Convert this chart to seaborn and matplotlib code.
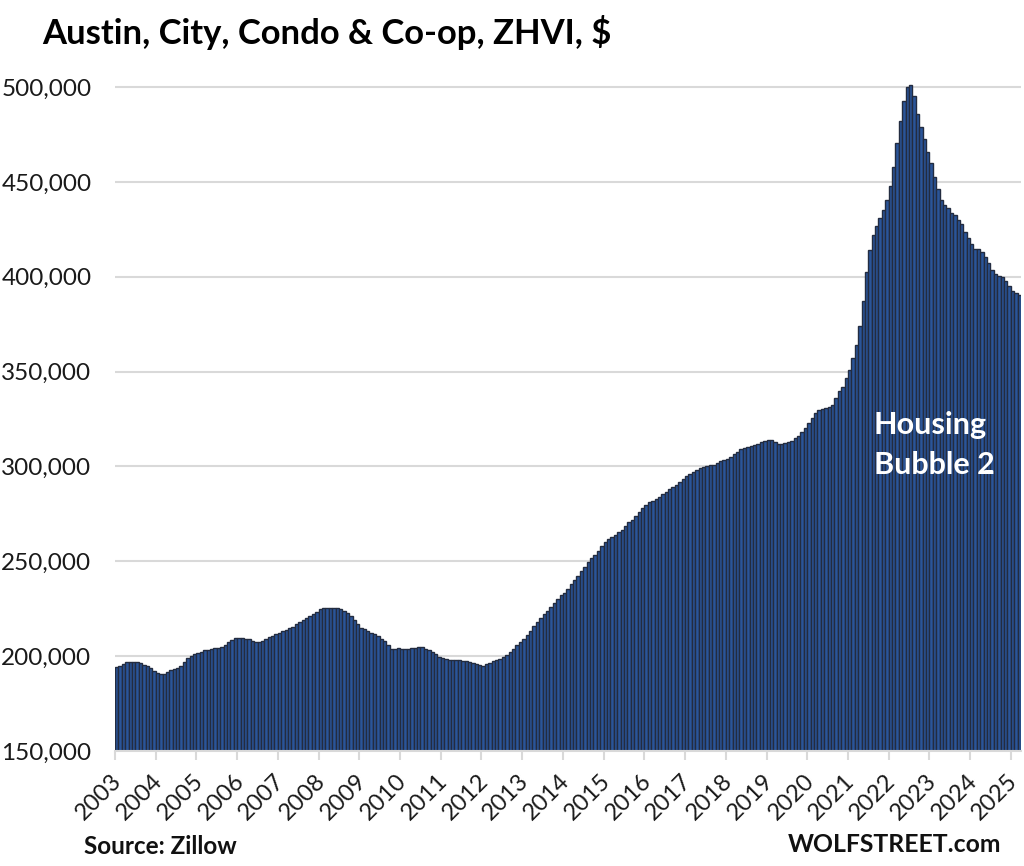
import numpy as np
import matplotlib
matplotlib.use('Agg')
import matplotlib.pyplot as plt
from matplotlib.transforms import ScaledTranslation
import seaborn as sns

# monthly values in $1000, starting Jan 2003
y2003 = [194.5, 195, 196, 196.7, 197, 197, 196.7, 196.2, 195.5, 194.8, 193.5, 192.3]
y2004 = [191, 190.5, 190.7, 191.5, 192.7, 193.3, 194, 195, 197, 199, 200, 201]
y2005 = [201.8, 202.4, 203, 203.5, 204, 204.3, 204.5, 204.8, 206, 207.6, 208.7, 209.5]
y2006 = [209.5, 209.4, 209.2, 208.8, 208, 207.4, 207.6, 208.2, 209, 210, 210.8, 211.6]
y2007 = [212.4, 213, 214, 215, 215.5, 216.7, 218, 219, 220, 221, 222, 223.5]
y2008 = [225, 225.2, 225.2, 225.2, 225.3, 225.2, 224.8, 224, 223, 221, 219, 217]
y2009 = [215, 214.2, 213.2, 212.4, 211.5, 210.5, 209.2, 207.8, 206, 204, 204, 204.4]
y2010 = [204, 204, 204, 204.3, 204.5, 205, 204.7, 204, 203, 202, 201, 199.7]
y2011 = [199, 198.5, 198, 198, 198, 198, 197.7, 197.3, 196.8, 196.3, 196, 195.5]
y2012 = [195, 195.7, 196.5, 197.2, 198, 198.7, 199.5, 200.5, 202, 204, 206, 207.5]
y2013 = [209, 211, 213.5, 216, 218, 220, 222, 224, 226, 228, 230, 232]
y2014 = [233.5, 235.5, 238, 240, 242.5, 245, 247, 249.5, 251.5, 253.5, 255.5, 258]
y2015 = [260, 261.5, 263, 264, 265.5, 266.5, 268.5, 270.5, 272, 274, 276, 278]
y2016 = [279.5, 281, 282, 283, 284, 285.5, 286.5, 288, 289, 290, 292, 293.5]
y2017 = [295, 296, 297, 298, 299, 299.5, 300, 300.5, 301, 302, 302.7, 303.3]
y2018 = [304, 305, 306.5, 307.5, 309, 309.5, 310, 310.7, 311.3, 312, 313, 313.5]
y2019 = [314, 314, 313, 312, 312, 312.3, 312.8, 313.4, 314.8, 316.3, 318.3, 320.3]
y2020 = [323, 325.5, 328, 329.7, 330.5, 331, 331.3, 332.5, 336, 339.5, 342, 346.7]
y2021 = [351, 357, 364, 374, 387, 402.5, 414, 422, 426.7, 431, 435, 440.5]
y2022 = [448, 458, 470.5, 482, 492.6, 500, 501, 495, 486, 479, 472.6, 466]
y2023 = [460, 452.6, 446, 440.5, 438, 436, 433.5, 432.5, 430, 428, 423.6, 420.5]
y2024 = [417, 414.6, 414.6, 413, 410.5, 407, 403.5, 401.5, 400.5, 400, 398, 395]
y2025 = [392.5, 391.5, 390.5]

all_years = [y2003, y2004, y2005, y2006, y2007, y2008, y2009, y2010, y2011, y2012, y2013, y2014,
             y2015, y2016, y2017, y2018, y2019, y2020, y2021, y2022, y2023, y2024, y2025]
values = np.concatenate(all_years) * 1000
year_labels = [str(2003 + i) for i in range(len(all_years))]
y_ticks = [150000, 200000, 250000, 300000, 350000, 400000, 450000, 500000]

sns.set_style('white')
plt.rcParams['font.family'] = ['Lato', 'DejaVu Sans']

fig = plt.figure(figsize=(10.24, 8.66), dpi=100)

# axes placed in pixels: plot runs x 115-1021, 150k at y=751, 510k on top
W, H = 1024.0, 866.0
top_px = 751 - 664 * 360 / 350.0
ax = fig.add_axes([115 / W, 1 - 751 / H, 906 / W, (751 - top_px) / H])

sns.barplot(x=np.arange(len(values)), y=values, color='#2a5599', saturation=1, width=1,
            edgecolor='#232c40', linewidth=1.0, ax=ax)

ax.set_xlim(-0.5, len(values) - 0.5)
ax.set_ylim(150000, 510000)
ax.set_xlabel('')
ax.set_ylabel('')

ax.set_axisbelow(True)
ax.yaxis.grid(True, color='#d9d9d9', lw=1.5)
ax.xaxis.grid(False)
sns.despine(ax=ax, left=True, right=True, top=True)
ax.spines['bottom'].set_color('#d9d9d9')
ax.spines['bottom'].set_linewidth(1.5)

ax.set_yticks(y_ticks)
ax.set_yticklabels([f'{v:,}' for v in y_ticks], fontsize=17.5, color='#1a1a1a')
ax.tick_params(axis='y', length=0, pad=17)

ax.set_xticks(np.arange(len(year_labels)) * 12 - 0.5)
ax.set_xticklabels(year_labels, fontsize=17, color='#1a1a1a', rotation=45, ha='right',
                   rotation_mode='anchor')
ax.tick_params(axis='x', bottom=True, length=6.5, width=1.5, color='#d9d9d9', pad=7.5)

# nudge the year labels a little to the left of their ticks
shift = ScaledTranslation(-4 / 100, 0, fig.dpi_scale_trans)
for lab in ax.get_xticklabels():
    lab.set_transform(lab.get_transform() + shift)

fig.text(42 / W, 1 - 32 / H, 'Austin, City, Condo & Co-op, ZHVI, $', fontsize=24.9,
         fontweight='bold', color='black', va='center', ha='left')
fig.text(84 / W, 1 - 847 / H, 'Source: Zillow', fontsize=17.5, fontweight='bold',
         color='#111111', va='center', ha='left')
fig.text(1001 / W, 1 - 845 / H, 'WOLFSTREET.com', fontsize=17.8, fontweight='bold',
         color='#111111', va='center', ha='right')
fig.text(874 / W, 1 - 445 / H, 'Housing\nBubble 2', fontsize=22, fontweight='bold',
         color='white', va='center', ha='left', linespacing=1.5)

fig.savefig('out.png', dpi=100)
